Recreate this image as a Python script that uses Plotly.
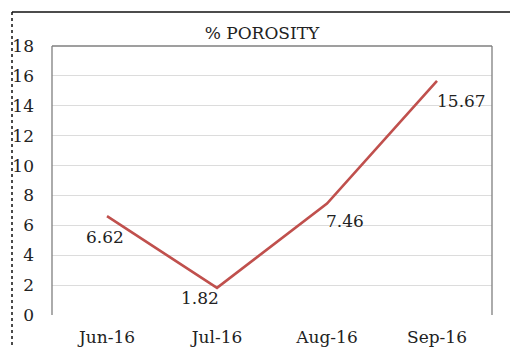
import plotly.graph_objects as go

months = ["Jun-16", "Jul-16", "Aug-16", "Sep-16"]
porosity = [6.62, 1.82, 7.46, 15.67]
label_text = ["6.62", "1.82", "7.46", "15.67"]
label_dx = [-2, -17, 18, 24]
label_dy = [-21, -10, -17, -20]
y_ticks = list(range(0, 19, 2))

FONT = "DejaVu Serif"

fig = go.Figure()
fig.add_trace(go.Scatter(
    x=months, y=porosity, mode="lines",
    line=dict(color="#C0504D", width=2.6),
    hoverinfo="skip", showlegend=False,
))

for m, v, t, dx, dy in zip(months, porosity, label_text, label_dx, label_dy):
    fig.add_annotation(x=m, y=v, text=t, showarrow=False, xshift=dx, yshift=dy,
                       font=dict(family=FONT, size=17, color="#222222"))

L, R, T, B = 52, 18, 46, 32
W, H = 510, 347
pw, ph = W - L - R, H - T - B

def px(xp):
    return (xp - L) / pw

def py(yp):
    return (H - B - yp) / ph

shapes = [
    dict(type="line", xref="paper", yref="paper", x0=px(12), x1=px(12), y0=py(12), y1=py(347),
         line=dict(color="#111111", width=1.5, dash="dot")),
    dict(type="line", xref="paper", yref="paper", x0=px(12), x1=px(512), y0=py(12), y1=py(12),
         line=dict(color="#111111", width=1.5)),
    dict(type="line", xref="paper", yref="paper", x0=0, x1=0, y0=0, y1=1,
         line=dict(color="#7F7F7F", width=1.3)),
    dict(type="line", xref="paper", yref="paper", x0=0, x1=1, y0=1, y1=1,
         line=dict(color="#7F7F7F", width=1.3)),
    dict(type="line", xref="paper", yref="paper", x0=1, x1=1, y0=0, y1=1,
         line=dict(color="#7F7F7F", width=1.3)),
]

fig.update_layout(
    width=W, height=H,
    margin=dict(l=L, r=R, t=T, b=B, autoexpand=False),
    paper_bgcolor="white", plot_bgcolor="white",
    font=dict(family=FONT, size=17, color="#222222"),
    title=dict(text="% POROSITY", x=px(278), xanchor="center", y=1 - 33 / H, yanchor="middle",
               font=dict(family=FONT, size=17, color="#222222")),
    shapes=shapes,
    xaxis=dict(type="category", range=[-0.5, 3.5], showgrid=False, zeroline=False,
               showline=False, ticks="", ticklabelstandoff=10, automargin=False,
               tickfont=dict(family=FONT, size=17, color="#222222")),
    yaxis=dict(range=[0, 18], tickvals=y_ticks, showgrid=True, gridcolor="#DCDCDC",
               gridwidth=1, zeroline=False, showline=False, ticks="",
               ticklabelstandoff=17, automargin=False,
               tickfont=dict(family=FONT, size=17, color="#222222")),
)

fig.write_html("out.html")
